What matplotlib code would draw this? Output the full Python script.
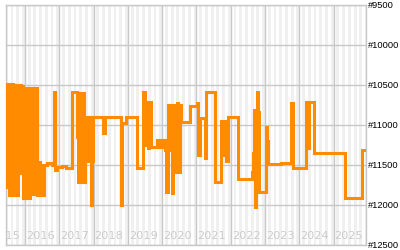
import matplotlib
import matplotlib.pyplot as plt
import numpy as np

matplotlib.use('Agg')

# Rank history (decimal year of change, rank held from then on)
years = [2015.40, 2015.417, 2015.446, 2015.475, 2015.504, 2015.534, 2015.563, 2015.592,
         2015.621, 2015.650, 2015.679, 2015.708, 2015.738, 2015.767, 2015.796, 2015.825,
         2015.854, 2015.883, 2015.913, 2015.942, 2015.971, 2016.000, 2016.029, 2016.058,
         2016.087, 2016.117, 2016.146, 2016.175, 2016.204, 2016.233, 2016.262, 2016.292,
         2016.321, 2016.350, 2016.379, 2016.437, 2016.466, 2016.525, 2016.554, 2016.583,
         2016.641, 2016.787, 2016.845, 2016.889, 2016.933, 2017.079, 2017.195, 2017.370,
         2017.516, 2017.545, 2017.589, 2017.632, 2017.676, 2017.720, 2017.764, 2017.837,
         2017.880, 2017.924, 2017.968, 2017.997, 2018.274, 2018.332, 2018.798, 2018.828,
         2018.944, 2019.265, 2019.454, 2019.513, 2019.542, 2019.585, 2019.629, 2019.673,
         2019.848, 2019.877, 2019.935, 2019.965, 2020.023, 2020.081, 2020.110, 2020.168,
         2020.227, 2020.285, 2020.329, 2020.373, 2020.431, 2020.475, 2020.519, 2020.548,
         2020.810, 2021.014, 2021.043, 2021.101, 2021.247, 2021.276, 2021.539, 2021.714,
         2021.758, 2021.801, 2021.845, 2021.874, 2021.918, 2022.209, 2022.617, 2022.646,
         2022.675, 2022.705, 2022.748, 2022.777, 2022.806, 2022.835, 2023.025, 2023.069,
         2023.098, 2023.462, 2023.754, 2023.812, 2024.191, 2024.264, 2024.293, 2024.424,
         2025.328, 2025.824, 2025.97]
ranks = [10488, 11363, 10488, 11775, 10488, 11875, 10488, 11875,
         10488, 11875, 10688, 11875, 10500, 11875, 10500, 11600,
         10500, 11600, 10513, 11913, 10538, 11913, 10538, 11913,
         10538, 11913, 10538, 11863, 10538, 11863, 10538, 11863,
         10538, 11875, 11463, 11875, 11500, 11875, 11500, 11500,
         11475, 11500, 10588, 11563, 11525, 11513, 11538, 10588,
         11150, 11713, 10600, 11713, 10600, 11713, 10900, 11450,
         10900, 12000, 11450, 10900, 11100, 10900, 12000, 10975,
         10900, 11538, 10588, 11250, 10713, 11288, 10713, 11275,
         11188, 11275, 11188, 11275, 11188, 11313, 11838, 10750,
         11313, 11850, 10750, 11588, 10725, 11588, 10750, 10963,
         10763, 10725, 11375, 10913, 11413, 10588, 11713, 10950,
         11100, 11375, 10950, 11450, 10900, 11675, 11588, 11350,
         10813, 12025, 10838, 10588, 10838, 11838, 11025, 11200,
         11488, 11471, 10725, 11538, 10713, 11288, 10713, 11350,
         11913, 11313, 11313]

year_labels = [2015, 2016, 2017, 2018, 2019, 2020, 2021, 2022, 2023, 2024, 2025]
rank_ticks = [9500, 10000, 10500, 11000, 11500, 12000, 12500]

x_start, x_end = 2015.437, 2025.955

fig = plt.figure(figsize=(4, 2.5), dpi=100)
ax = fig.add_axes([0.014, 0.02, 0.902, 0.96])

# month stripes
for y in range(2015, 2026):
    for m in range(1, 12, 2):
        ax.axvspan(y + m / 12, y + (m + 1) / 12, color='#f0f0f0', lw=0, zorder=0)

for y in year_labels:
    ax.axvline(y, color='#c8c8c8', lw=1, zorder=1)
    ax.text(y + 0.03, 12430, str(y), color='#cccccc', fontsize=8.2,
            ha='left', va='baseline', clip_on=True, zorder=2)
for r in rank_ticks:
    ax.axhline(r, color='#c8c8c8', lw=1, zorder=1)

ax.plot(years, ranks, drawstyle='steps-post', color='#ff8c00', lw=2.2,
        solid_joinstyle='miter', zorder=3)

ax.set_xlim(x_start, x_end)
ax.set_ylim(12500, 9500)
ax.set_xticks([])
ax.yaxis.tick_right()
ax.set_yticks(rank_ticks)
ax.set_yticklabels(['#%d' % r for r in rank_ticks], fontfamily='Liberation Sans', fontsize=6.7)
ax.tick_params(axis='y', length=0, pad=1)
for s in ax.spines.values():
    s.set_color('#c8c8c8')
    s.set_linewidth(1)

fig.savefig('out.png', dpi=100)
plt.close()
